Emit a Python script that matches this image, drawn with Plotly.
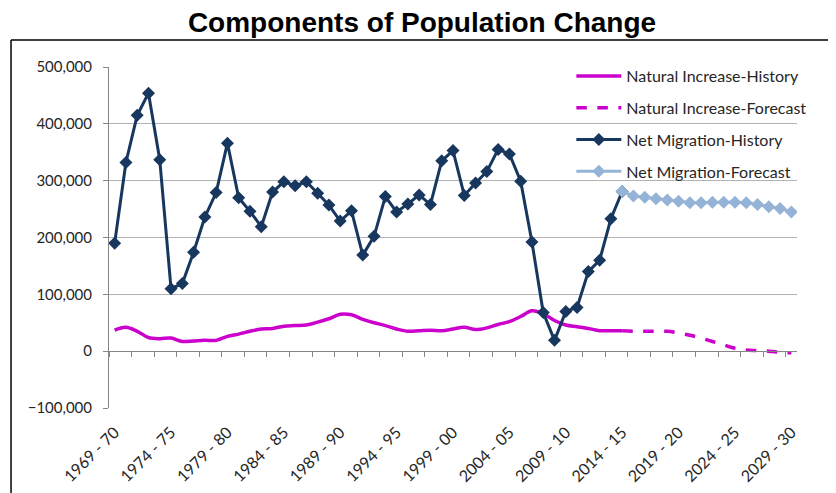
import plotly.graph_objects as go

# categories 1969-70 .. 2029-30
years = [f"{y} - {str(y + 1)[-2:]}" for y in range(1969, 2030)]
hist_years = years[:46]      # 1969-70 .. 2014-15
fc_years = years[45:]        # 2014-15 .. 2029-30

nat_hist = [37, 42, 35, 24, 22, 23, 17, 18, 19, 19, 26, 30, 35, 39, 40, 44,
            45, 46, 51, 57, 65, 64, 56, 50, 45, 39, 35, 36, 37, 36, 39, 42, 38,
            41, 47, 52, 61, 71, 66, 54, 46, 43, 40, 36, 36, 36]
nat_fc = [36, 35, 35, 35, 35, 32, 28, 23, 17, 11, 5, 2, 1, 0, -2, -3]

mig_hist = [190, 332, 415, 454, 337, 110, 119, 174, 236, 279, 366, 270, 246, 219, 280, 298,
            291, 298, 278, 257, 229, 247, 169, 202, 272, 245, 259, 275, 258, 335, 353, 274, 296,
            316, 355, 347, 299, 192, 68, 19, 70, 77, 140, 160, 233, 281]
mig_fc = [281, 273, 271, 268, 266, 264, 261, 261, 262, 262, 262, 261, 258, 254, 251, 245]

label_idx = list(range(0, 61, 5))
tick_labels = [years[i] for i in label_idx]

MAGENTA = "#CC00CC"
NAVY = "#17375E"
LIGHT = "#95B3D7"
GRID = "#B3B3B3"
AXIS = "#868686"
FONT = "Lato, Noto Sans, sans-serif"

k = lambda vals: [v * 1000 for v in vals]

fig = go.Figure()
fig.add_trace(go.Scatter(x=hist_years, y=k(nat_hist), name="Natural Increase-History",
                         mode="lines", line=dict(color=MAGENTA, width=3.5, shape="spline"),
                         legendgroup="a"))
fig.add_trace(go.Scatter(x=fc_years, y=k(nat_fc), name="Natural Increase-Forecast",
                         mode="lines", line=dict(color=MAGENTA, width=3.5, dash="dash", shape="spline"),
                         legendgroup="b"))
fig.add_trace(go.Scatter(x=hist_years, y=k(mig_hist), name="Net Migration-History",
                         mode="lines+markers", line=dict(color=NAVY, width=3),
                         marker=dict(symbol="diamond", size=10, color=NAVY),
                         legendgroup="c"))
fig.add_trace(go.Scatter(x=fc_years, y=k(mig_fc), name="Net Migration-Forecast",
                         mode="lines+markers", line=dict(color=LIGHT, width=3),
                         marker=dict(symbol="diamond", size=10, color=LIGHT),
                         legendgroup="d"))
# empty carrier so the bottom label axis gets drawn
fig.add_trace(go.Scatter(x=label_idx, y=[0] * len(label_idx), xaxis="x2", mode="none",
                         showlegend=False, hoverinfo="skip"))

# page body has an 8px margin, so the figure is sized 8px short on each axis
fig.update_layout(
    width=828, height=485,
    paper_bgcolor="white", plot_bgcolor="white",
    margin=dict(l=101, r=39, t=59, b=85, autoexpand=False),
    font=dict(family=FONT, size=15, color="#262626"),
    title=dict(text="<b>Components of Population Change</b>", x=0.5, xanchor="center",
               y=0.9711, yanchor="middle",
               font=dict(family="Liberation Sans, Arial, sans-serif", size=28, color="black")),
    showlegend=True,
    legend=dict(x=0.672, y=1.0235, xanchor="left", yanchor="top", bgcolor="rgba(0,0,0,0)",
                font=dict(size=16, color="#262626"), tracegroupgap=8, itemwidth=45),
    xaxis=dict(type="category", categoryarray=years, range=[-0.5, 60.5],
               anchor="free", position=1 / 6, showline=True, linecolor=AXIS, linewidth=1,
               ticks="outside", tickson="boundaries", ticklen=5, tickcolor=AXIS,
               showticklabels=False, showgrid=False, zeroline=False),
    xaxis2=dict(overlaying="x", anchor="y", side="bottom", range=[-0.5, 60.5],
                tickmode="array", tickvals=label_idx, ticktext=tick_labels,
                tickangle=-45, showline=False, showgrid=False, zeroline=False, ticks="",
                ticklabelstandoff=11, tickfont=dict(size=16, color="#262626")),
    yaxis=dict(range=[-100000, 500000], dtick=100000, tickformat=",",
               showline=True, linecolor=AXIS, ticks="outside", ticklen=5, tickcolor=AXIS,
               gridcolor=GRID, gridwidth=1, zeroline=False, ticklabelstandoff=8,
               tickfont=dict(size=15, color="#262626")),
)

# outer chart border (top and left edges visible in the crop)
fig.add_shape(type="line", xref="paper", yref="paper", x0=-0.1424, x1=1.2, y0=1.079, y1=1.079,
              line=dict(color="black", width=1.5))
fig.add_shape(type="line", xref="paper", yref="paper", x0=-0.1424, x1=-0.1424, y0=1.079, y1=-0.5,
              line=dict(color="black", width=1.5))

fig.write_html("out.html")
